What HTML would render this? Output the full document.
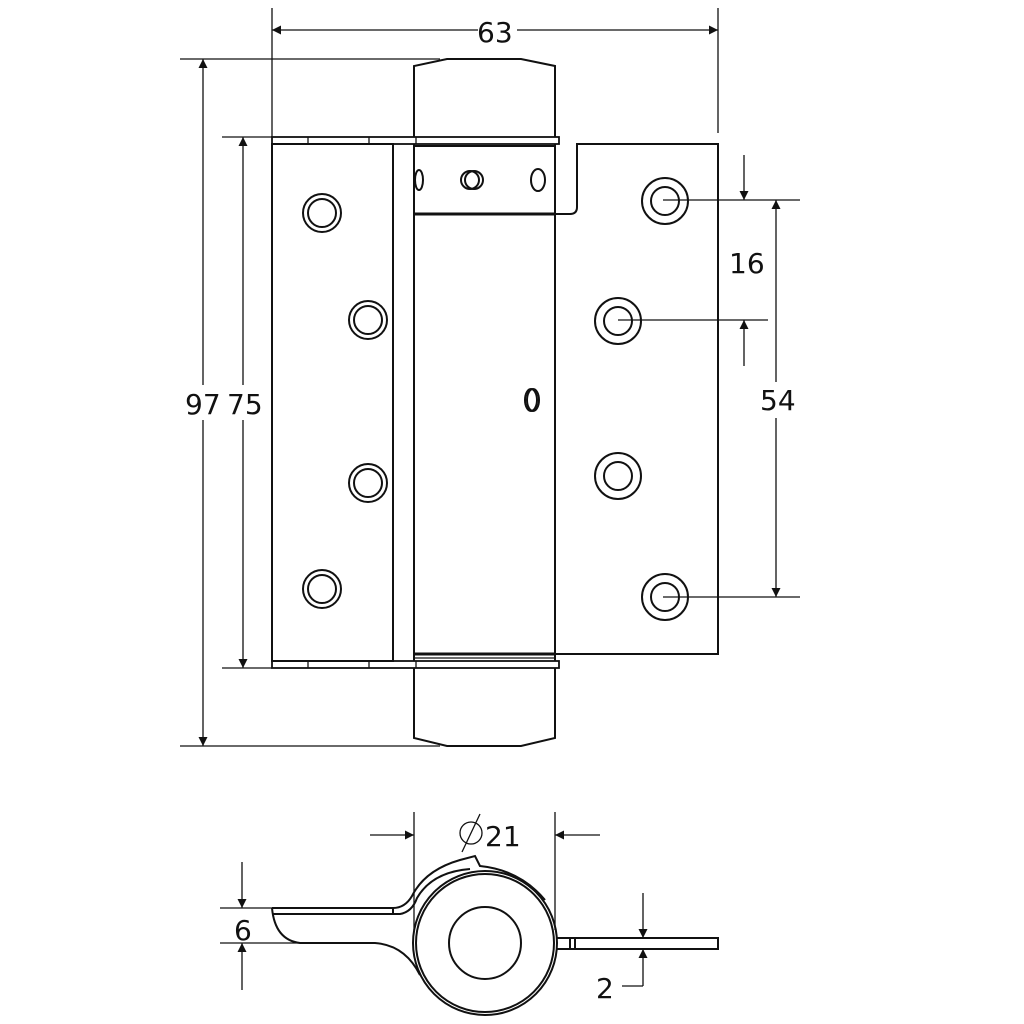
<!DOCTYPE html>
<html><head><style>html,body{margin:0;padding:0;background:#fff}svg{display:block}text{font-family:"DejaVu Sans","Liberation Sans",sans-serif;font-size:28px;fill:#111}</style></head><body>
<svg width="1024" height="1024" viewBox="0 0 1024 1024" xmlns="http://www.w3.org/2000/svg">
<defs>
<marker id="a" viewBox="0 0 10 10" refX="10" refY="5" markerWidth="20" markerHeight="9" markerUnits="userSpaceOnUse" orient="auto"><path d="M0,0L10,5L0,10z" fill="#111"/></marker>
</defs>
<g fill="none" stroke="#111" stroke-width="1.3">
<line x1="272" y1="8" x2="272" y2="137"/><line x1="718" y1="8" x2="718" y2="133"/>
<line x1="478" y1="30" x2="272" y2="30" marker-end="url(#a)"/>
<line x1="517" y1="30" x2="718" y2="30" marker-end="url(#a)"/>
<line x1="180" y1="59" x2="440" y2="59"/><line x1="180" y1="746" x2="440" y2="746"/>
<line x1="203" y1="385" x2="203" y2="59" marker-end="url(#a)"/>
<line x1="203" y1="420" x2="203" y2="746" marker-end="url(#a)"/>
<line x1="222" y1="137" x2="272" y2="137"/><line x1="222" y1="668" x2="272" y2="668"/>
<line x1="243" y1="385" x2="243" y2="137" marker-end="url(#a)"/>
<line x1="243" y1="420" x2="243" y2="668" marker-end="url(#a)"/>
<line x1="663" y1="200" x2="800" y2="200"/><line x1="618" y1="320" x2="768" y2="320"/><line x1="663" y1="597" x2="800" y2="597"/>
<line x1="744" y1="155" x2="744" y2="200" marker-end="url(#a)"/>
<line x1="744" y1="366" x2="744" y2="320" marker-end="url(#a)"/>
<line x1="776" y1="382" x2="776" y2="200" marker-end="url(#a)"/>
<line x1="776" y1="418" x2="776" y2="597" marker-end="url(#a)"/>
<rect x="272" y="144" width="121" height="517" stroke-width="2"/>
<rect x="272" y="137" width="287" height="7" stroke-width="1.8"/>
<line x1="308" y1="137" x2="308" y2="144"/><line x1="369" y1="137" x2="369" y2="144"/><line x1="416" y1="137" x2="416" y2="144"/>
<rect x="272" y="661" width="287" height="7" stroke-width="1.8"/>
<line x1="308" y1="661" x2="308" y2="668"/><line x1="369" y1="661" x2="369" y2="668"/><line x1="416" y1="661" x2="416" y2="668"/>
<path d="M414,137V66L447,59H521L555,66V137" stroke-width="2"/>
<path d="M414,144V661M555,144V661" stroke-width="2"/>
<path d="M414,668V738L447,746H521L555,738V668" stroke-width="2"/>
<line x1="414" y1="146" x2="555" y2="146" stroke-width="2"/>
<line x1="414" y1="214" x2="555" y2="214" stroke-width="3"/>
<line x1="414" y1="654" x2="555" y2="654" stroke-width="3"/>
<line x1="414" y1="658" x2="555" y2="658"/>
<path d="M555,214H570Q577,214 577,207V144H718V654H555" stroke-width="2"/>
<ellipse cx="419" cy="180" rx="4" ry="10" stroke-width="2"/>
<circle cx="470" cy="180" r="9" stroke-width="2"/><circle cx="474" cy="180" r="9" stroke-width="2"/>
<ellipse cx="538" cy="180" rx="7" ry="11" stroke-width="2"/>
<ellipse cx="531" cy="400" rx="6" ry="11" stroke-width="2"/><ellipse cx="533" cy="400" rx="6" ry="11" stroke-width="2"/>
<g stroke-width="2">
<circle cx="322" cy="213" r="19"/><circle cx="322" cy="213" r="14"/>
<circle cx="368" cy="320" r="19"/><circle cx="368" cy="320" r="14"/>
<circle cx="368" cy="483" r="19"/><circle cx="368" cy="483" r="14"/>
<circle cx="322" cy="589" r="19"/><circle cx="322" cy="589" r="14"/>
<circle cx="665" cy="201" r="23"/><circle cx="665" cy="201" r="14"/>
<circle cx="618" cy="321" r="23"/><circle cx="618" cy="321" r="14"/>
<circle cx="618" cy="476" r="23"/><circle cx="618" cy="476" r="14"/>
<circle cx="665" cy="597" r="23"/><circle cx="665" cy="597" r="14"/>
</g>
<line x1="414" y1="812" x2="414" y2="930"/><line x1="555" y1="812" x2="555" y2="930"/>
<line x1="370" y1="835" x2="414" y2="835" marker-end="url(#a)"/>
<line x1="600" y1="835" x2="555" y2="835" marker-end="url(#a)"/>
<g stroke-width="2">
<circle cx="485" cy="943" r="72"/><circle cx="485" cy="943" r="69"/><circle cx="485" cy="943" r="36"/>
<path d="M272,908H393Q405,908 412,896Q425,870 460,860L475,856L480,866Q520,870 545,900"/>
<path d="M393,908V914M272,908Q275,940 300,943H375Q405,945 420,975"/>
<path d="M272,914H400Q412,912 417,898Q432,872 470,869"/>
<path d="M557,938H718V949H557M570,938V949M575,938V949"/>
</g>
<line x1="220" y1="908" x2="272" y2="908"/><line x1="220" y1="943" x2="300" y2="943"/>
<line x1="242" y1="862" x2="242" y2="908" marker-end="url(#a)"/>
<line x1="242" y1="990" x2="242" y2="943" marker-end="url(#a)"/>
<line x1="643" y1="893" x2="643" y2="938" marker-end="url(#a)"/>
<line x1="643" y1="986" x2="643" y2="949" marker-end="url(#a)"/>
<path d="M643,986H622"/>
<circle cx="471" cy="833" r="11"/><line x1="462" y1="852" x2="480" y2="814"/>
</g>
<text x="477" y="42">63</text>
<text x="185" y="414">97</text><text x="227" y="414">75</text>
<text x="729" y="273">16</text>
<text x="760" y="410">54</text>
<text x="485" y="846">21</text>
<text x="234" y="940">6</text>
<text x="596" y="998">2</text>
</svg>
</body></html>
